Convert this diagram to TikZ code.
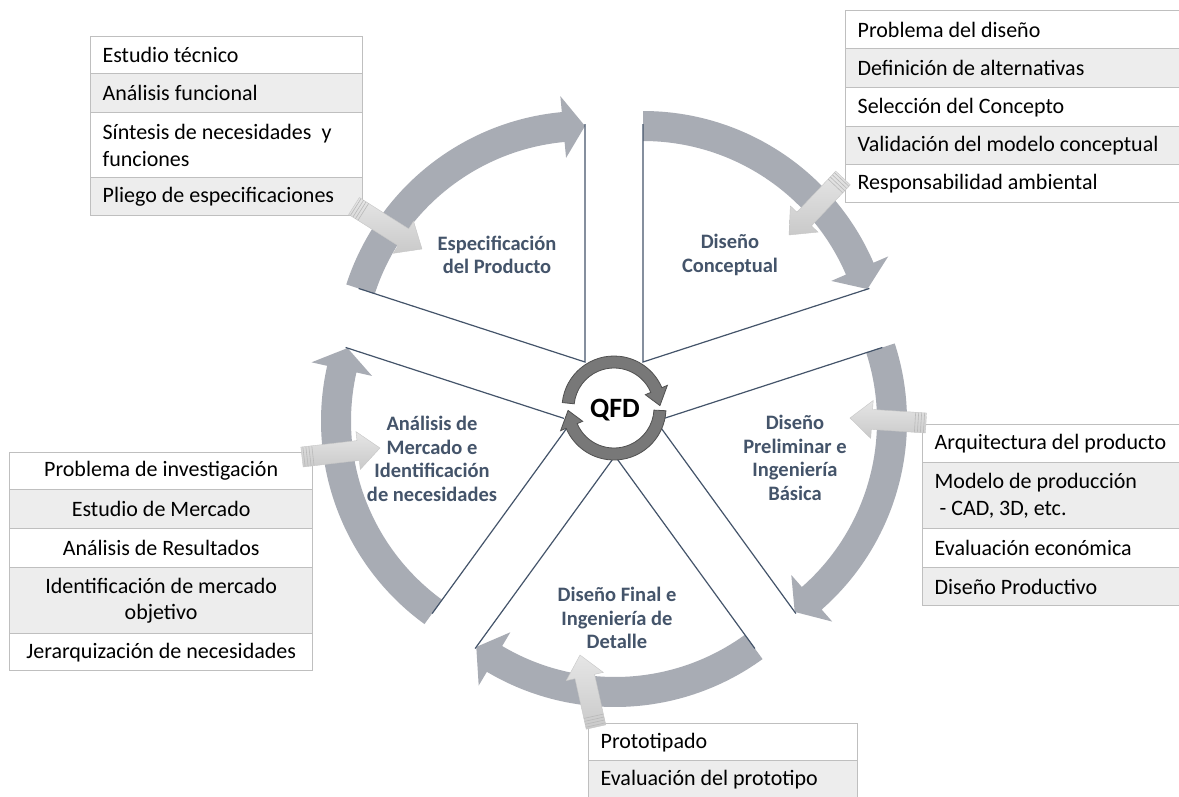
\documentclass[tikz,border=0pt]{standalone}
\usepackage{fontspec}
\setmainfont{Carlito}
\usetikzlibrary{calc}

\definecolor{bandgray}{RGB}{168,172,180}
\definecolor{slate}{RGB}{68,84,106}
\definecolor{cellgray}{RGB}{237,237,237}
\definecolor{cellline}{RGB}{191,191,191}
\definecolor{qfdfill}{RGB}{120,120,120}
\definecolor{qfdedge}{RGB}{80,80,80}

\newcommand\tabfont{\fontsize{22}{26.7}\selectfont}
\newcommand\lblfont{\fontsize{20.5}{23.5}\selectfont\bfseries}

% curved arrow around a centre: [style]{centre}{start angle}{tip angle}{mid radius}{half band}{half head}{head angle}
\newcommand\ringarrow[8][]{%
  \path[#1] ($(#2)+({#3}:{#5+#6})$)
    arc[start angle=#3, end angle=#4+#8, radius=#5+#6]
    -- ($(#2)+({#4+#8}:{#5+#7})$)
    -- ($(#2)+({#4}:{#5})$)
    -- ($(#2)+({#4+#8}:{#5-#7})$)
    -- ($(#2)+({#4+#8}:{#5-#6})$)
    arc[start angle=#4+#8, end angle=#3, radius=#5-#6]
    -- cycle;}

% straight block arrow from one named coordinate to another
\newcommand\blockarrow[2]{%
  \path let \p1=($(#2)-(#1)$), \n1={atan2(\y1,\x1)}, \n2={veclen(\x1,\y1)} in
    \pgfextra{\xdef\baang{\n1}\xdef\balen{\n2}};
  \begin{scope}[shift={(#1)}, rotate=\baang]
    \path[blockfill] (0,-10) -- ({\balen-22pt},-10) -- ({\balen-22pt},-19)
      -- (\balen,0) -- ({\balen-22pt},19) -- ({\balen-22pt},10) -- (0,10) -- cycle;
    \foreach \k in {2,5,8,11}
      \draw[gray!55, line width=0.6pt] (\k,-10) -- (\k,10);
  \end{scope}}

\tikzset{
  band/.style={fill=bandgray},
  edge/.style={draw=slate, line width=1.2pt},
  qfd/.style={fill=qfdfill, draw=qfdedge, line width=0.8pt},
  lbl/.style={font=\lblfont, text=slate, align=center},
  blockfill/.style={top color=gray!20, bottom color=gray!42, draw=gray!45, line width=0.4pt},
  cell/.style={draw=cellline, line width=1.3pt, anchor=north west, inner xsep=12pt,
    inner ysep=0pt, font=\tabfont, align=flush left, text=black},
  cellc/.style={cell, align=flush center},
  whitecell/.style={fill=white},
  graycell/.style={fill=cellgray},
}

\begin{document}
\begin{tikzpicture}[x=1pt,y=1pt]
\useasboundingbox[fill=white] (0,0) rectangle (1179,-796);

% apexes of the five sectors and the hub
\coordinate (A1) at (585,-362);
\coordinate (A2) at (643,-362);
\coordinate (A3) at (656,-421);
\coordinate (A4) at (615,-456);
\coordinate (A5) at (572,-421);
\coordinate (Q) at (614,-408);

% wide grey cycle arrows
\ringarrow[band]{A1}{162}{90}{236}{15}{31}{5.3}
\ringarrow[band]{A2}{90}{18}{236}{15}{31}{5.3}
\ringarrow[band]{A3}{18}{-54}{236}{15}{31}{5.3}
\ringarrow[band]{A4}{-54}{-126}{236}{15}{31}{5.3}
\ringarrow[band]{A5}{-126}{-198}{236}{15}{31}{5.3}

% sector edges
\foreach \a/\s/\e in {A1/162/90, A2/90/18, A3/18/-54, A4/-54/-126, A5/-126/-198}
  \draw[edge] ($(\a)+(\s:238)$) -- (\a) -- ($(\a)+(\e:238)$);

% hub
\fill[white] (Q) circle[radius=51];
\ringarrow[qfd]{Q}{174}{3}{46}{6}{12}{20}
\ringarrow[qfd]{Q}{-3}{-177}{46}{6}{12}{20}
\node[font=\fontsize{28}{30}\selectfont\bfseries] (qfd) at (615,-410) {QFD};

% sector titles
\node[lbl] (s1) at (497,-255) {Especificación\\del Producto};
\node[lbl] (s2) at (730,-255) {Diseño\\Conceptual};
\node[lbl] (s3) at (795,-458) {Diseño\\Preliminar e\\Ingeniería\\Básica};
\node[lbl] (s4) at (617,-618) {Diseño Final e\\Ingeniería de\\Detalle};
\node[lbl] (s5) at (432,-459) {Análisis de\\Mercado e\\Identificación\\de necesidades};

% table: product specification
\node[cell, whitecell, text width=248pt, minimum height=37pt] (t1a) at (90,-36) {Estudio técnico};
\node[cell, graycell, text width=248pt, minimum height=39pt] (t1b) at (90,-73) {Análisis funcional};
\node[cell, whitecell, text width=248pt, minimum height=65pt] (t1c) at (90,-112) {Síntesis de necesidades\hspace{10pt}y\\funciones};
\node[cell, graycell, text width=248pt, minimum height=38pt] (t1d) at (90,-177) {Pliego de especificaciones};

% table: conceptual design
\node[cell, whitecell, text width=313pt, minimum height=38pt] (t2a) at (845,-10) {Problema del diseño};
\node[cell, graycell, text width=313pt, minimum height=39pt] (t2b) at (845,-48) {Definición de alternativas};
\node[cell, whitecell, text width=313pt, minimum height=39pt] (t2c) at (845,-87) {Selección del Concepto};
\node[cell, graycell, text width=313pt, minimum height=38pt] (t2d) at (845,-126) {Validación del modelo conceptual};
\node[cell, whitecell, text width=313pt, minimum height=38pt] (t2e) at (845,-164) {Responsabilidad ambiental};

% table: preliminary design
\node[cell, whitecell, text width=239pt, minimum height=38pt] (t3a) at (922,-424) {Arquitectura del producto};
\node[cell, graycell, text width=239pt, minimum height=66pt] (t3b) at (922,-462) {Modelo de producción\\\ - CAD, 3D, etc.};
\node[cell, whitecell, text width=239pt, minimum height=39pt] (t3c) at (922,-528) {Evaluación económica};
\node[cell, graycell, text width=239pt, minimum height=38pt] (t3d) at (922,-567) {Diseño Productivo};

% table: market analysis
\node[cellc, whitecell, text width=279pt, minimum height=37pt] (t4a) at (9,-452) {Problema de investigación};
\node[cellc, graycell, text width=279pt, minimum height=39pt] (t4b) at (9,-489) {Estudio de Mercado};
\node[cellc, whitecell, text width=279pt, minimum height=39pt] (t4c) at (9,-528) {Análisis de Resultados};
\node[cellc, graycell, text width=279pt, minimum height=66pt] (t4d) at (9,-567) {Identificación de mercado\\objetivo};
\node[cellc, whitecell, text width=279pt, minimum height=37pt] (t4e) at (9,-633) {Jerarquización de necesidades};

% table: detailed design
\node[cell, whitecell, text width=245pt, minimum height=37pt] (t5a) at (588,-723) {Prototipado};
\node[cell, graycell, text width=245pt, minimum height=38pt] (t5b) at (588,-760) {Evaluación del prototipo};

% feeding arrows from the tables
\coordinate (b1t) at (354,-206); \coordinate (b1h) at (422,-249);
\coordinate (b2t) at (843,-178); \coordinate (b2h) at (789,-235);
\coordinate (b3t) at (926,-423); \coordinate (b3h) at (850,-418);
\coordinate (b4t) at (302,-457); \coordinate (b4h) at (380,-448);
\coordinate (b5t) at (596,-727); \coordinate (b5h) at (580,-655);
\blockarrow{b1t}{b1h}
\blockarrow{b2t}{b2h}
\blockarrow{b3t}{b3h}
\blockarrow{b4t}{b4h}
\blockarrow{b5t}{b5h}
\end{tikzpicture}
\end{document}
